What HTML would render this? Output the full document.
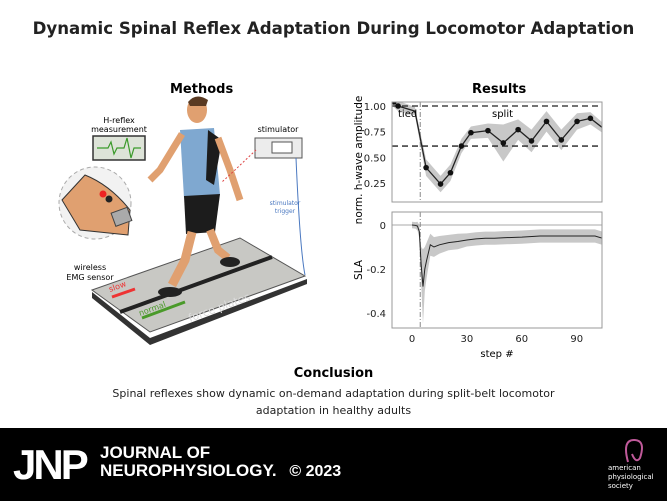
<!DOCTYPE html>
<html><head><meta charset="utf-8"><style>
body{margin:0;width:667px;height:501px;background:#fff;overflow:hidden;font-family:"DejaVu Sans","Liberation Sans",sans-serif;position:relative}
.t{position:absolute;white-space:nowrap}
</style></head><body>
<div class="t" style="left:0;width:667px;text-align:center;top:19px;font-size:16.6px;font-weight:bold;color:#222">Dynamic Spinal Reflex Adaptation During Locomotor Adaptation</div>
<div class="t" style="left:170px;top:82px;font-size:13px;font-weight:bold">Methods</div>
<div class="t" style="left:472px;top:82px;font-size:13px;font-weight:bold">Results</div>

<svg width="340" height="350" style="position:absolute;left:0;top:0">
 <polygon points="92,292 150,338 307,279 307,284 150,345 92,298" fill="#333"/>
 <polygon points="92,290 240,238 305,276 150,332" fill="#c8c8c4" stroke="#555" stroke-width="1"/>
 <line x1="120" y1="312" x2="272" y2="257" stroke="#222" stroke-width="4"/>
 <text x="190" y="322" font-size="11" fill="#ddd" transform="rotate(-20 190 322)">force plates</text>
 <text x="110" y="292" font-size="8" fill="#e33" transform="rotate(-20 110 292)">slow</text>
 <line x1="112" y1="297" x2="135" y2="289" stroke="#e33" stroke-width="3"/>
 <text x="140" y="316" font-size="8" fill="#4a9a2a" transform="rotate(-20 140 316)">normal</text>
 <line x1="142" y1="318" x2="185" y2="302" stroke="#4a9a2a" stroke-width="3"/>
 <ellipse cx="197" cy="110" rx="10" ry="13" fill="#e0a070"/>
 <path d="M188,102 Q196,92 208,100 L206,106 L190,106Z" fill="#5a3a22"/>
 <polygon points="180,130 214,128 220,195 184,198" fill="#7fa8d0"/>
 <polygon points="208,130 222,140 214,185 206,180" fill="#1c1c1c"/>
 <path d="M182,134 L160,170 L150,180" stroke="#e0a070" stroke-width="7" fill="none"/>
 <path d="M218,138 L230,170 L240,200" stroke="#e0a070" stroke-width="7" fill="none"/>
 <polygon points="184,196 220,194 215,232 186,234" fill="#1c1c1c"/>
 <path d="M192,232 L185,260 L172,285" stroke="#e0a070" stroke-width="9" fill="none"/>
 <path d="M210,230 L218,250 L228,258" stroke="#e0a070" stroke-width="8" fill="none"/>
 <ellipse cx="170" cy="292" rx="12" ry="5" fill="#222"/>
 <ellipse cx="230" cy="262" rx="10" ry="5" fill="#222"/>
 <rect x="93" y="136" width="52" height="24" fill="#dde3d8" stroke="#333" stroke-width="1.5"/>
 <path d="M97,148 L108,148 L111,142 L114,154 L117,148 L124,148 L127,138 L131,158 L134,148 L141,148" stroke="#3a9a2a" fill="none" stroke-width="1.2"/>
 <text x="119" y="123" font-size="8" text-anchor="middle">H-reflex</text>
 <text x="119" y="132" font-size="8" text-anchor="middle">measurement</text>
 <circle cx="95" cy="203" r="36" fill="#f2f2f2" stroke="#aaa" stroke-dasharray="4,3"/>
 <path d="M85,175 Q110,185 130,210 L128,235 L80,230 L62,200Z" fill="#e0a070" stroke="#333"/>
 <rect x="113" y="210" width="17" height="14" fill="#aaa" stroke="#444" transform="rotate(-20 121 217)"/>
 <circle cx="103" cy="194" r="3.5" fill="#e22"/><circle cx="109" cy="199" r="3.5" fill="#222"/>
 <text x="90" y="270" font-size="8" text-anchor="middle">wireless</text>
 <text x="90" y="280" font-size="8" text-anchor="middle">EMG sensor</text>
 <rect x="255" y="138" width="47" height="20" fill="#ececec" stroke="#555"/>
 <rect x="272" y="142" width="20" height="11" fill="#fff" stroke="#555"/>
 <text x="278" y="132" font-size="8" text-anchor="middle">stimulator</text>
 <path d="M296,158 Q300,250 305,275" stroke="#4a78c0" fill="none"/>
 <text x="285" y="205" font-size="6" fill="#4a78c0" text-anchor="middle">stimulator</text>
 <text x="285" y="213" font-size="6" fill="#4a78c0" text-anchor="middle">trigger</text>
 <path d="M256,150 L235,170 L222,182" stroke="#d44" stroke-dasharray="2,2" fill="none"/>
</svg>

<svg id="chart" width="667" height="370" style="position:absolute;left:0;top:0"></svg>

<div class="t" style="left:0;width:667px;text-align:center;top:366px;font-size:13px;font-weight:bold">Conclusion</div>
<div class="t" style="left:0;width:667px;text-align:center;top:385px;font-size:11px;line-height:17px;color:#222">Spinal reflexes show dynamic on-demand adaptation during split-belt locomotor<br>adaptation in healthy adults</div>

<div style="position:absolute;left:0;top:428px;width:667px;height:73px;background:#000;color:#fff">
 <div class="t" style="left:13px;top:13px;font-size:42px;font-weight:bold;font-family:'Liberation Sans',sans-serif;letter-spacing:-3px">JNP</div>
 <div class="t" style="left:100px;top:16px;font-size:17px;font-weight:bold;line-height:18px;font-family:'Liberation Sans',sans-serif">JOURNAL OF<br>NEUROPHYSIOLOGY. <span style="font-size:16px;margin-left:8px">© 2023</span></div>
 <div class="t" style="left:608px;top:36px;font-size:7px;line-height:9px">american<br>physiological<br>society</div>
 <svg style="position:absolute;left:620px;top:8px" width="30" height="30"><path d="M8,26 Q2,4 14,4 Q26,4 20,22 Q16,28 12,18" stroke="#c05a9a" stroke-width="2" fill="none"/></svg>
</div>

<script>
const hSteps=[-10,-7.6,1.6,7.7,15.6,21,27,32.2,41.5,49.9,58,65.3,73.5,81.6,90.2,97.5,104];
const hVals=[1.04,1.0,0.95,0.40,0.24,0.35,0.61,0.74,0.76,0.64,0.77,0.66,0.85,0.67,0.85,0.88,0.79];
const hErr=[0.05,0.05,0.04,0.08,0.08,0.08,0.07,0.06,0.07,0.18,0.10,0.11,0.10,0.10,0.08,0.06,0.05];
const hMarked=[1,1,0,1,1,1,1,1,1,1,1,1,1,1,1,1,0];
const hTicks=[1.00,0.75,0.50,0.25];
const hRefLines=[1.00,0.61];
const slaSteps=[0,2,3,4,5,6,7,8,10,12,15,20,25,30,35,40,45,50,60,70,80,90,100,104];
const slaVals=[0,-0.002,-0.005,-0.03,-0.18,-0.28,-0.2,-0.16,-0.09,-0.1,-0.09,-0.08,-0.075,-0.068,-0.063,-0.06,-0.06,-0.058,-0.055,-0.05,-0.05,-0.05,-0.05,-0.06];
const slaErr=[0.015,0.015,0.02,0.03,0.08,0.17,0.1,0.08,0.05,0.045,0.04,0.035,0.035,0.03,0.03,0.03,0.03,0.03,0.03,0.03,0.03,0.03,0.03,0.03];
const slaTicks=[0,-0.2,-0.4];
const xTicks=[0,30,60,90];
const splitStep=4.5;

const svg=document.getElementById('chart');
const NS='http://www.w3.org/2000/svg';
const X=s=>412+s*1.83;
const YH=v=>106+(1-v)*102.7;
const YS=v=>225-v*220;
function mk(tag,attrs,parent){const e=document.createElementNS(NS,tag);for(const k in attrs)e.setAttribute(k,attrs[k]);(parent||svg).appendChild(e);return e;}
function band(xs,ys,es,Y){let up=xs.map((s,i)=>X(s)+','+Y(ys[i]+es[i]));let dn=xs.map((s,i)=>X(s)+','+Y(ys[i]-es[i])).reverse();return up.concat(dn).join(' ');}
const defs=mk('defs',{});
const c1=mk('clipPath',{id:'c1'},defs);mk('rect',{x:392,y:102,width:210,height:100},c1);
const c2=mk('clipPath',{id:'c2'},defs);mk('rect',{x:392,y:212,width:210,height:116},c2);
const g1=mk('g',{'clip-path':'url(#c1)'});
let b=mk('polygon',{points:band(hSteps,hVals,hErr,YH),fill:'#c8c8c8'},g1);


hRefLines.forEach(v=>{const l=mk('line',{x1:392,x2:602,y1:YH(v),y2:YH(v),stroke:'#222','stroke-width':1.3,'stroke-dasharray':'6,4'},g1);

});
mk('line',{x1:X(splitStep),x2:X(splitStep),y1:102,y2:202,stroke:'#888','stroke-dasharray':'5,2,1,2'},g1);
let pl=mk('polyline',{points:hSteps.map((s,i)=>X(s)+','+YH(hVals[i])).join(' '),fill:'none',stroke:'#222','stroke-width':1.3},g1);


hSteps.forEach((s,i)=>{if(!hMarked[i])return;const c=mk('circle',{cx:X(s),cy:YH(hVals[i]),r:2.8,fill:'#111'},g1);

});
mk('rect',{x:392,y:102,width:210,height:100,fill:'none',stroke:'#999'});
hTicks.forEach(v=>{const t=mk('text',{x:386,y:YH(v)+4,'font-size':10,'text-anchor':'end',fill:'#222'});t.textContent=v.toFixed(2);

});
let tt=mk('text',{x:398,y:117,'font-size':10});tt.textContent='tied';

let st=mk('text',{x:492,y:117,'font-size':10});st.textContent='split';

let ya=mk('text',{x:0,y:0,'font-size':10.5,'text-anchor':'middle',transform:'translate(362,160) rotate(-90)'});ya.textContent='norm. h-wave amplitude';

const g2=mk('g',{'clip-path':'url(#c2)'});
let b2=mk('polygon',{points:band(slaSteps,slaVals,slaErr,YS),fill:'#c8c8c8'},g2);


mk('line',{x1:392,x2:602,y1:YS(0),y2:YS(0),stroke:'#aaa'},g2);
mk('line',{x1:X(splitStep),x2:X(splitStep),y1:212,y2:328,stroke:'#888','stroke-dasharray':'5,2,1,2'},g2);
let pl2=mk('polyline',{points:slaSteps.map((s,i)=>X(s)+','+YS(slaVals[i])).join(' '),fill:'none',stroke:'#222','stroke-width':1},g2);


mk('rect',{x:392,y:212,width:210,height:116,fill:'none',stroke:'#999'});
slaTicks.forEach(v=>{const t=mk('text',{x:386,y:YS(v)+4,'font-size':10,'text-anchor':'end',fill:'#222'});t.textContent=v===0?'0':String(v);

});
xTicks.forEach(v=>{const t=mk('text',{x:X(v),y:342,'font-size':10,'text-anchor':'middle',fill:'#222'});t.textContent=v;

});
let sa=mk('text',{x:0,y:0,'font-size':10.5,'text-anchor':'middle',transform:'translate(362,270) rotate(-90)'});sa.textContent='SLA';

let xa=mk('text',{x:497,y:357,'font-size':10,'text-anchor':'middle'});xa.textContent='step #';

</script>
</body></html>
